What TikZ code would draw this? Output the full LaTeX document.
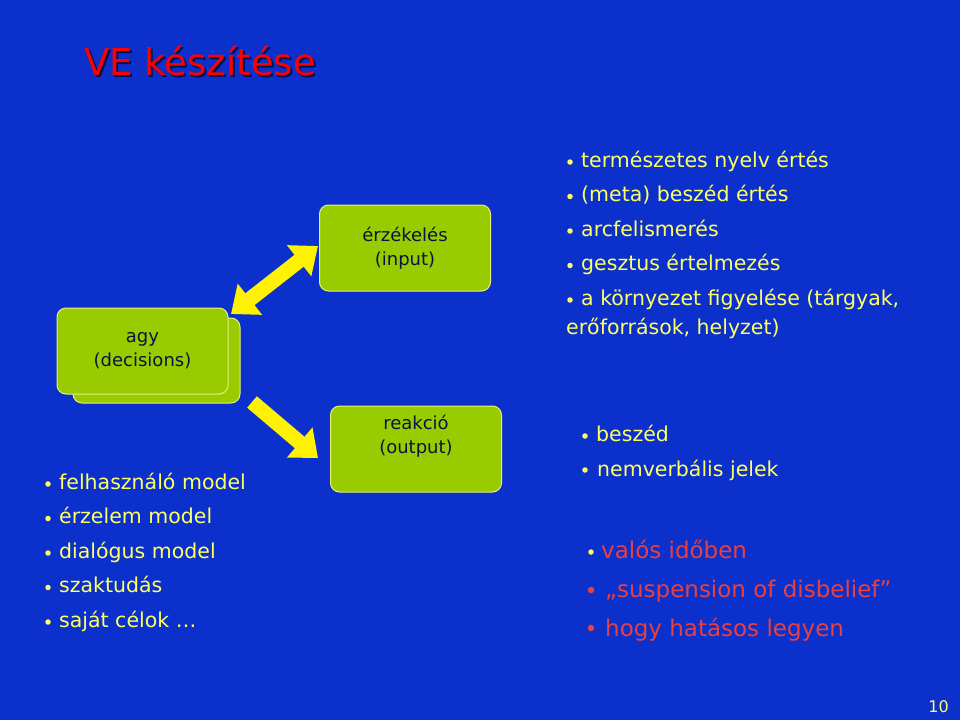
\documentclass[tikz,border=0pt]{standalone}
\usepackage{fontspec}
\setmainfont{DejaVu Sans}
\usetikzlibrary{arrows.meta}
\definecolor{bg}{RGB}{12,48,204}
\definecolor{boxg}{RGB}{153,204,0}
\definecolor{boxb}{RGB}{230,240,120}
\definecolor{ytxt}{RGB}{255,255,102}
\definecolor{rtxt}{RGB}{232,64,64}
\definecolor{navy}{RGB}{10,20,60}
\definecolor{shad}{RGB}{10,15,80}
\tikzset{
 box/.style={draw=boxb,fill=boxg,rounded corners=9pt,line width=1pt,minimum width=171pt,minimum height=86pt,text=navy,font=\fontsize{18}{24}\selectfont,align=center},
 ytext/.style={anchor=base west,text=ytxt,font=\fontsize{20.5}{24}\selectfont,inner sep=0},
 rtext/.style={anchor=base west,text=rtxt,font=\fontsize{23}{26}\selectfont,inner sep=0},
 ybul/.style={circle,fill=ytxt,inner sep=0,minimum size=5.5pt},
 rbul/.style={circle,fill=rtxt,inner sep=0,minimum size=6.5pt},
 bigarrow/.style={draw=yellow,line width=15pt,yellow},
}
\begin{document}
\begin{tikzpicture}[x=1pt,y=-1pt]
\fill[bg] (0,0) rectangle (960,720);
\useasboundingbox (0,0) rectangle (960,720);
% title
\node[anchor=base west,font=\fontsize{37}{40}\selectfont,inner sep=0] (title) at (84,75) {\rlap{\kern2pt\raisebox{-2pt}{\color{shad}VE készítése}}\color{red}VE készítése};
% boxes
\node[box,minimum width=167pt,minimum height=85pt] (aggb) at (156.5,360.5) {};
\node[box] (agy) at (142.5,351) {agy\\(decisions)};
\node[box] (inp) at (405,248) {érzékelés\\(input)};
\node[box,anchor=north,text height=13pt,inner ysep=10pt] (out) at (416,405.5) {reakció\\(output)};
% arrows
\coordinate (a1) at (231,314);
\coordinate (a2) at (318,246);
\coordinate (b1) at (252,402);
\coordinate (b2) at (318,458);
\draw[bigarrow,{Triangle[width=38pt,length=24pt]}-{Triangle[width=38pt,length=24pt]}] (a1) -- (a2);
\draw[bigarrow,-{Triangle[width=38pt,length=24pt]}] (b1) -- (b2);
% top right list
\foreach \t [count=\i] in {természetes nyelv értés,(meta) beszéd értés,arcfelismerés,gesztus értelmezés,{a környezet figyelése (tárgyak,}}{
  \node[ybul] (tb\i) at (570,{162+34.5*(\i-1)}) {};
  \node[ytext] (tt\i) at (581,{167+34.5*(\i-1)}) {\t};
}
\node[ytext] (tt6) at (566,334) {erőforrások, helyzet)};
% left list
\foreach \t [count=\i] in {felhasználó model,érzelem model,dialógus model,szaktudás,saját célok …}{
  \node[ybul] (lb\i) at (48,{484+34.5*(\i-1)}) {};
  \node[ytext] (lt\i) at (59,{489+34.5*(\i-1)}) {\t};
}
% lower right
\node[ybul] (rb1) at (585,436) {};
\node[ytext] (rt1) at (596,441) {beszéd};
\node[ybul] (rb2) at (585,470) {};
\node[ytext] (rt2) at (597,476) {nemverbális jelek};
\node[ybul] (rb3) at (591,552) {};
\node[rtext] (rt3) at (601,558) {valós időben};
\node[rbul] (rb4) at (591,590) {};
\node[rtext] (rt4) at (605,597) {„suspension of disbelief”};
\node[rbul] (rb5) at (591,628) {};
\node[rtext] (rt5) at (605,636) {hogy hatásos legyen};
% page number
\node[anchor=base east,text=ytxt,font=\fontsize{16}{18}\selectfont,inner sep=0] (pg) at (949,712) {10};
\end{tikzpicture}
\end{document}
